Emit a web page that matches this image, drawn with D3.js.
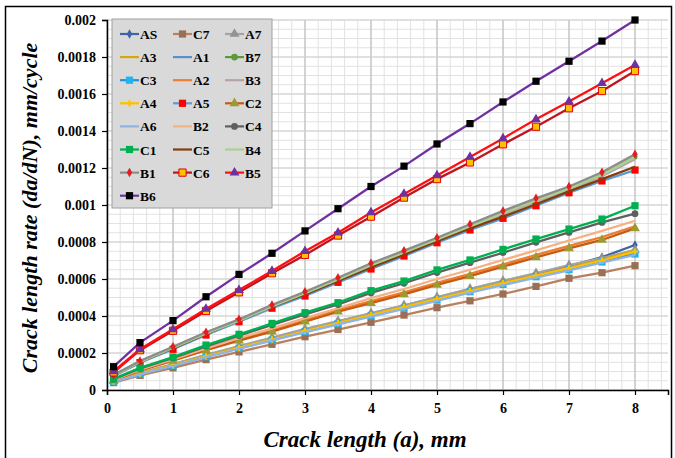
<!DOCTYPE html>
<html lang="en">
<head>
<meta charset="utf-8">
<title>Crack length rate</title>
<script src="https://cdnjs.cloudflare.com/ajax/libs/d3/7.7.0/d3.min.js"></script>
<style>
  body { margin: 0; background: #fff; }
  text { font-family: "Liberation Serif", "Times New Roman", serif; font-weight: bold; }
</style>
</head>
<body>
<div id="chart"></div>
<script>
// crack length (mm) where each rate was taken
const crackLength = [0.1, 0.5, 1, 1.5, 2, 2.5, 3, 3.5, 4, 4.5, 5, 5.5, 6, 6.5, 7, 7.5, 8];

// da/dN values, mm/cycle
const AS = [0.000047, 0.00009, 0.000137, 0.000187, 0.000233, 0.000279, 0.000325, 0.00037, 0.000413, 0.000456, 0.0005, 0.000545, 0.000587, 0.000628, 0.00067, 0.000718, 0.000784];
const C7 = [0.00004, 0.000079, 0.00012, 0.000164, 0.000206, 0.000247, 0.000288, 0.000327, 0.000366, 0.000405, 0.000445, 0.000482, 0.000519, 0.00056, 0.000604, 0.000634, 0.000672];
const A7 = [0.000048, 0.000092, 0.00014, 0.00019, 0.000237, 0.000283, 0.00033, 0.000373, 0.000415, 0.000458, 0.000502, 0.000547, 0.00059, 0.000632, 0.000675, 0.000713, 0.000757];
const A3 = [0.000046, 0.000088, 0.000134, 0.000183, 0.000229, 0.000274, 0.00032, 0.000364, 0.000407, 0.00045, 0.000493, 0.000537, 0.000579, 0.00062, 0.000661, 0.000705, 0.000755];
const A1 = [0.000045, 0.000087, 0.000132, 0.000181, 0.000227, 0.000272, 0.000317, 0.00036, 0.000403, 0.000446, 0.00049, 0.000534, 0.000575, 0.000616, 0.000655, 0.000698, 0.000742];
const B7 = [0.000079, 0.000154, 0.00023, 0.000307, 0.000377, 0.000454, 0.000525, 0.0006, 0.000677, 0.000745, 0.000815, 0.000887, 0.000958, 0.001026, 0.00109, 0.001165, 0.00126];
const C3 = [0.000045, 0.000086, 0.000131, 0.00018, 0.000225, 0.00027, 0.000315, 0.000358, 0.0004, 0.000442, 0.000486, 0.000531, 0.000571, 0.000612, 0.00065, 0.000692, 0.000735];
const A2 = [0.000054, 0.000108, 0.000162, 0.000221, 0.000273, 0.000323, 0.000378, 0.000432, 0.00048, 0.000528, 0.000579, 0.000628, 0.000679, 0.00073, 0.000779, 0.000826, 0.000885];
const B3 = [0.000078, 0.000152, 0.000227, 0.000303, 0.000373, 0.000449, 0.00052, 0.000594, 0.00067, 0.000738, 0.000807, 0.000879, 0.00095, 0.001017, 0.00108, 0.001155, 0.001248];
const A4 = [0.000046, 0.000088, 0.000133, 0.000182, 0.000228, 0.000273, 0.000318, 0.000362, 0.000405, 0.000448, 0.000491, 0.000535, 0.000577, 0.000618, 0.000658, 0.0007, 0.000748];
const A5 = [0.000075, 0.000148, 0.00022, 0.000297, 0.000369, 0.000442, 0.000508, 0.000582, 0.000654, 0.000724, 0.000796, 0.000865, 0.000928, 0.000996, 0.001066, 0.00113, 0.001189];
const C2 = [0.000052, 0.000105, 0.000158, 0.000216, 0.000267, 0.000315, 0.000369, 0.000423, 0.000469, 0.000517, 0.000568, 0.000616, 0.000667, 0.000717, 0.000766, 0.000811, 0.000874];
const A6 = [0.000044, 0.000085, 0.00013, 0.000178, 0.000223, 0.000268, 0.000312, 0.000355, 0.000397, 0.000439, 0.000482, 0.000526, 0.000567, 0.000607, 0.000646, 0.000688, 0.00073];
const B2 = [0.000055, 0.00011, 0.000165, 0.000225, 0.00028, 0.000333, 0.000388, 0.000442, 0.000497, 0.000546, 0.0006, 0.00065, 0.000703, 0.000755, 0.000808, 0.00086, 0.000915];
const C4 = [0.000058, 0.000117, 0.000174, 0.000236, 0.000294, 0.000352, 0.000408, 0.000462, 0.000525, 0.000577, 0.000635, 0.000688, 0.000742, 0.000798, 0.000852, 0.000906, 0.000953];
const C1 = [0.00006, 0.00012, 0.000178, 0.000243, 0.000301, 0.00036, 0.000418, 0.000472, 0.000537, 0.000589, 0.000649, 0.000703, 0.00076, 0.000816, 0.00087, 0.000924, 0.000996];
const C5 = [0.000078, 0.000152, 0.000226, 0.000303, 0.000376, 0.00045, 0.000516, 0.00059, 0.000662, 0.000732, 0.000804, 0.000873, 0.000937, 0.001004, 0.001074, 0.00114, 0.001207];
const B4 = [0.000079, 0.000154, 0.00023, 0.000307, 0.000377, 0.000454, 0.000525, 0.0006, 0.000677, 0.000745, 0.000815, 0.000887, 0.000958, 0.001026, 0.00109, 0.001165, 0.00126];
const B1 = [0.000081, 0.000157, 0.000234, 0.000312, 0.000382, 0.00046, 0.000531, 0.000607, 0.000685, 0.000753, 0.000823, 0.000896, 0.000968, 0.001036, 0.0011, 0.001177, 0.001274];
const C6 = [0.000095, 0.000215, 0.00032, 0.000427, 0.000528, 0.000631, 0.00073, 0.000835, 0.000937, 0.00104, 0.00114, 0.00123, 0.001328, 0.001423, 0.001523, 0.001616, 0.001724];
const B5 = [0.0001, 0.00022, 0.000328, 0.000438, 0.00054, 0.000643, 0.00075, 0.00085, 0.00096, 0.00106, 0.00116, 0.00126, 0.00136, 0.001463, 0.001559, 0.001658, 0.001757];
const B6 = [0.000126, 0.000256, 0.000375, 0.000504, 0.000625, 0.000739, 0.00086, 0.00098, 0.0011, 0.00121, 0.00133, 0.00144, 0.001557, 0.001669, 0.001777, 0.001886, 0.002];

const xTicks = [0, 1, 2, 3, 4, 5, 6, 7, 8];
const yTicks = [0, 0.0002, 0.0004, 0.0006, 0.0008, 0.001, 0.0012, 0.0014, 0.0016, 0.0018, 0.002];

// legend order (row by row) is also the drawing order
const series = [
  {name: "AS", v: AS, line: "#3f62a8", mark: "diamond", fill: "#3f62a8"},
  {name: "C7", v: C7, line: "#b8805e", mark: "square", fill: "#9a6f55"},
  {name: "A7", v: A7, line: "#a3a3a3", mark: "triangle", fill: "#939393"},
  {name: "A3", v: A3, line: "#d6a514", mark: null},
  {name: "A1", v: A1, line: "#5b8fcf", mark: null},
  {name: "B7", v: B7, line: "#5c9a3c", mark: "circle", fill: "#5c9a3c", size: 20},
  {name: "C3", v: C3, line: "#2a8fd8", mark: "square", fill: "#1eb4f0"},
  {name: "A2", v: A2, line: "#ed7d31", mark: null},
  {name: "B3", v: B3, line: "#b8a2aa", mark: null},
  {name: "A4", v: A4, line: "#ffc000", mark: "plus", fill: "#ffc000"},
  {name: "A5", v: A5, line: "#5b9bd5", mark: "square", fill: "#ff0000"},
  {name: "C2", v: C2, line: "#c55a11", mark: "triangle", fill: "#9c9a30"},
  {name: "A6", v: A6, line: "#8fb4e3", mark: null},
  {name: "B2", v: B2, line: "#f4b183", mark: null},
  {name: "C4", v: C4, line: "#5f5f5f", mark: "circle", fill: "#5f5f5f"},
  {name: "C1", v: C1, line: "#00b050", mark: "square", fill: "#00b050"},
  {name: "C5", v: C5, line: "#843c0c", mark: null},
  {name: "B4", v: B4, line: "#a9d18e", mark: null, width: 3},
  {name: "B1", v: B1, line: "#8c8c8c", mark: "diamond", fill: "#e02020"},
  {name: "C6", v: C6, line: "#c0141e", mark: "square", fill: "#ffc000", stroke: "#e00000"},
  {name: "B5", v: B5, line: "#ff1010", mark: "triangle", fill: "#7030a0"},
  {name: "B6", v: B6, line: "#7030a0", mark: "square", fill: "#000000"}
];

const w = 675, h = 458;
const svg = d3.select("#chart").append("svg").attr("width", w).attr("height", h);

// outer frame
svg.append("rect").attr("x", 5.5).attr("y", 6.5).attr("width", 666).attr("height", 470)
  .attr("fill", "none").attr("stroke", "#000").attr("stroke-width", 1.5);

const x = d3.scaleLinear().domain([0, 8.5]).range([107, 668]);
const y = d3.scaleLinear().domain([0, 0.002]).range([390, 20]);

// grid
const grid = svg.append("g");
grid.selectAll(".vx").data(d3.range(0, 43).map(i => i * 0.2)).enter().append("line")
  .attr("x1", d => x(d)).attr("x2", d => x(d)).attr("y1", y(0)).attr("y2", y(0.002))
  .attr("stroke", "#e2e2e2").attr("stroke-width", 1);
grid.selectAll(".hy").data(d3.range(0, 41).map(i => i * 0.00005)).enter().append("line")
  .attr("x1", x(0)).attr("x2", x(8.5)).attr("y1", d => y(d)).attr("y2", d => y(d))
  .attr("stroke", "#e2e2e2").attr("stroke-width", 1);
grid.selectAll(".vmaj").data(xTicks).enter().append("line")
  .attr("x1", d => x(d)).attr("x2", d => x(d)).attr("y1", y(0)).attr("y2", y(0.002))
  .attr("stroke", "#b4b4b4").attr("stroke-width", 1);
grid.selectAll(".hmaj").data(yTicks).enter().append("line")
  .attr("x1", x(0)).attr("x2", x(8.5)).attr("y1", d => y(d)).attr("y2", d => y(d))
  .attr("stroke", "#cfcfcf").attr("stroke-width", 1);

// axes
const xAxis = svg.append("g").attr("transform", "translate(0," + y(0) + ")")
  .call(d3.axisBottom(x).tickValues(xTicks).tickSize(5).tickPadding(8).tickFormat(d3.format("d")));
const yAxis = svg.append("g").attr("transform", "translate(" + x(0) + ",0)")
  .call(d3.axisLeft(y).tickValues(yTicks).tickSize(5).tickPadding(6).tickFormat(d => d === 0 ? "0" : String(+d.toFixed(4))));
[xAxis, yAxis].forEach(a => {
  a.select(".domain").attr("stroke", "#000").attr("stroke-width", 1.5);
  a.selectAll(".tick line").attr("stroke", "#000").attr("stroke-width", 1.2);
  a.selectAll("text").attr("font-size", 14).attr("fill", "#000")
    .attr("font-family", "'Liberation Serif', serif").attr("font-weight", "bold");
});

// marker symbols
function marker(sel, s) {
  if (!s.mark) return;
  const types = {diamond: d3.symbolDiamond, square: d3.symbolSquare, triangle: d3.symbolTriangle, circle: d3.symbolCircle, plus: d3.symbolCross};
  const sizes = {diamond: 26, square: 52, triangle: 42, circle: 36, plus: 22};
  const sym = d3.symbol().type(types[s.mark]).size(s.size || sizes[s.mark]);
  return sel.append("path").attr("d", sym)
    .attr("fill", s.fill).attr("stroke", s.stroke || "none").attr("stroke-width", 1);
}

const line = d3.line().x((d, i) => x(crackLength[i])).y(d => y(d));

series.forEach(s => {
  const g = svg.append("g");
  g.append("path").datum(s.v).attr("d", line).attr("fill", "none")
    .attr("stroke", s.line).attr("stroke-width", s.width || 2.3);
  s.v.forEach((d, i) => {
    const m = g.append("g").attr("transform", "translate(" + x(crackLength[i]) + "," + y(d) + ")");
    marker(m, s);
  });
});

// legend
const leg = svg.append("g");
leg.append("rect").attr("x", 112).attr("y", 19).attr("width", 160).attr("height", 189)
  .attr("fill", "#d9d9d9").attr("stroke", "#a0a0a0").attr("stroke-width", 1);
const colX = [120, 173, 225];
series.forEach((s, i) => {
  const cx = colX[i % 3], cy = 34 + Math.floor(i / 3) * 23.1;
  const item = leg.append("g").attr("transform", "translate(" + cx + "," + cy + ")");
  item.append("line").attr("x1", 0).attr("x2", 19).attr("y1", 0).attr("y2", 0)
    .attr("stroke", s.line).attr("stroke-width", 2.2);
  const m = item.append("g").attr("transform", "translate(9.5,0)");
  marker(m, Object.assign({}, s, {size: null}));
  item.append("text").attr("x", 20).attr("y", 5).attr("font-size", 13.5).attr("fill", "#000")
    .text(s.name);
});

// axis titles
svg.append("text").attr("x", 365).attr("y", 447).attr("text-anchor", "middle")
  .attr("font-size", 23).attr("font-style", "italic").attr("fill", "#000")
  .text("Crack length (a), mm");
svg.append("text").attr("transform", "translate(37,208) rotate(-90)").attr("text-anchor", "middle")
  .attr("font-size", 22).attr("font-style", "italic").attr("fill", "#000")
  .text("Crack length rate (da/dN), mm/cycle");
</script>
</body>
</html>
